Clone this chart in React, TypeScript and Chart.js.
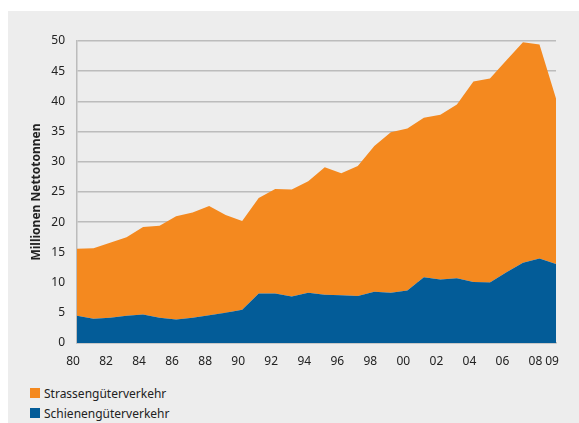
import React, { useEffect, useRef } from "react";
import { Chart, registerables } from "chart.js";

Chart.register(...registerables);

const years = [
  "80", "81", "82", "83", "84", "85", "86", "87", "88", "89",
  "90", "91", "92", "93", "94", "95", "96", "97", "98", "99",
  "00", "01", "02", "03", "04", "05", "06", "07", "08", "09",
];
const shownTicks = ["80", "82", "84", "86", "88", "90", "92", "94", "96", "98", "00", "02", "04", "06", "08", "09"];

const schiene = [
  4.5, 4.0, 4.2, 4.5, 4.7, 4.2, 3.9, 4.2, 4.6, 5.0,
  5.5, 8.2, 8.2, 7.7, 8.3, 8.0, 7.9, 7.8, 8.5, 8.3,
  8.7, 10.9, 10.5, 10.7, 10.1, 10.0, 11.7, 13.3, 14.0, 13.1,
];
const strasse = [
  11.1, 11.7, 12.4, 13.0, 14.5, 15.2, 17.1, 17.4, 18.1, 16.2,
  14.7, 15.8, 17.3, 17.7, 18.5, 21.1, 20.2, 21.5, 24.1, 26.6,
  26.8, 26.4, 27.3, 28.8, 33.2, 33.8, 35.1, 36.5, 35.4, 27.4,
];

const seriesNames = ["Strassengüterverkehr", "Schienengüterverkehr"];
const yTitle = "Millionen Nettotonnen";

const ORANGE = "#f4891f";
const BLUE = "#035c98";
const FONT = "'Noto Sans', 'Open Sans', sans-serif";
const TEXT = "#222222";
const GRID = "#bcbcbc";

export default function App() {
  const ref = useRef<HTMLCanvasElement | null>(null);

  useEffect(() => {
    if (!ref.current) return;
    const chart = new Chart(ref.current, {
      type: "line",
      data: {
        labels: years,
        datasets: [
          {
            label: seriesNames[1],
            data: schiene,
            backgroundColor: BLUE,
            borderColor: BLUE,
            borderWidth: 0,
            pointRadius: 0,
            fill: "origin",
            tension: 0,
          },
          {
            label: seriesNames[0],
            data: strasse,
            backgroundColor: ORANGE,
            borderColor: ORANGE,
            borderWidth: 0,
            pointRadius: 0,
            fill: "-1",
            tension: 0,
          },
        ],
      },
      options: {
        responsive: false,
        animation: false,
        layout: { padding: { left: 0, right: 23, top: 30, bottom: 0 } },
        plugins: {
          legend: { display: false },
          tooltip: { enabled: false },
        },
        scales: {
          x: {
            type: "category",
            offset: false,
            grid: { display: false, drawTicks: false },
            border: { display: true, color: GRID, width: 1.5 },
            ticks: {
              autoSkip: false,
              maxRotation: 0,
              padding: 11,
              labelOffset: -4,
              color: TEXT,
              font: { family: FONT, size: 12 },
              callback: (_v: any, i: number) => (shownTicks.includes(years[i]) ? years[i] : ""),
            },
            afterFit: (s: any) => {
              s.height = 33;
            },
          },
          y: {
            stacked: true,
            min: 0,
            max: 50,
            grid: { color: GRID, lineWidth: 1.5, drawTicks: false },
            border: { display: true, color: GRID, width: 1.5 },
            ticks: {
              stepSize: 5,
              padding: 12,
              color: TEXT,
              font: { family: FONT, size: 12 },
            },
            title: {
              display: true,
              text: yTitle,
              color: TEXT,
              font: { family: FONT, size: 12, weight: "bold" },
              padding: { top: 21, bottom: 0 },
            },
            afterFit: (s: any) => {
              s.width = 69;
            },
          },
        },
      },
    });
    return () => chart.destroy();
  }, []);

  const legendRow = (color: string, text: string, top: number) => (
    <div
      style={{
        position: "absolute",
        left: 22,
        top,
        height: 20,
        display: "flex",
        alignItems: "center",
        fontFamily: FONT,
        fontSize: 12,
        color: TEXT,
      }}
    >
      <span style={{ display: "inline-block", width: 10, height: 10, background: color, marginRight: 4 }} />
      <span>{text}</span>
    </div>
  );

  return (
    <div
      style={{
        position: "fixed",
        left: 8,
        top: 11,
        width: 571,
        height: 412,
        background: "#ededed",
        overflow: "hidden",
      }}
    >
      <canvas ref={ref} width={571} height={365} style={{ position: "absolute", left: 0, top: 0, width: 571, height: 365 }} />
      {legendRow(ORANGE, seriesNames[0], 372)}
      {legendRow(BLUE, seriesNames[1], 392)}
    </div>
  );
}
